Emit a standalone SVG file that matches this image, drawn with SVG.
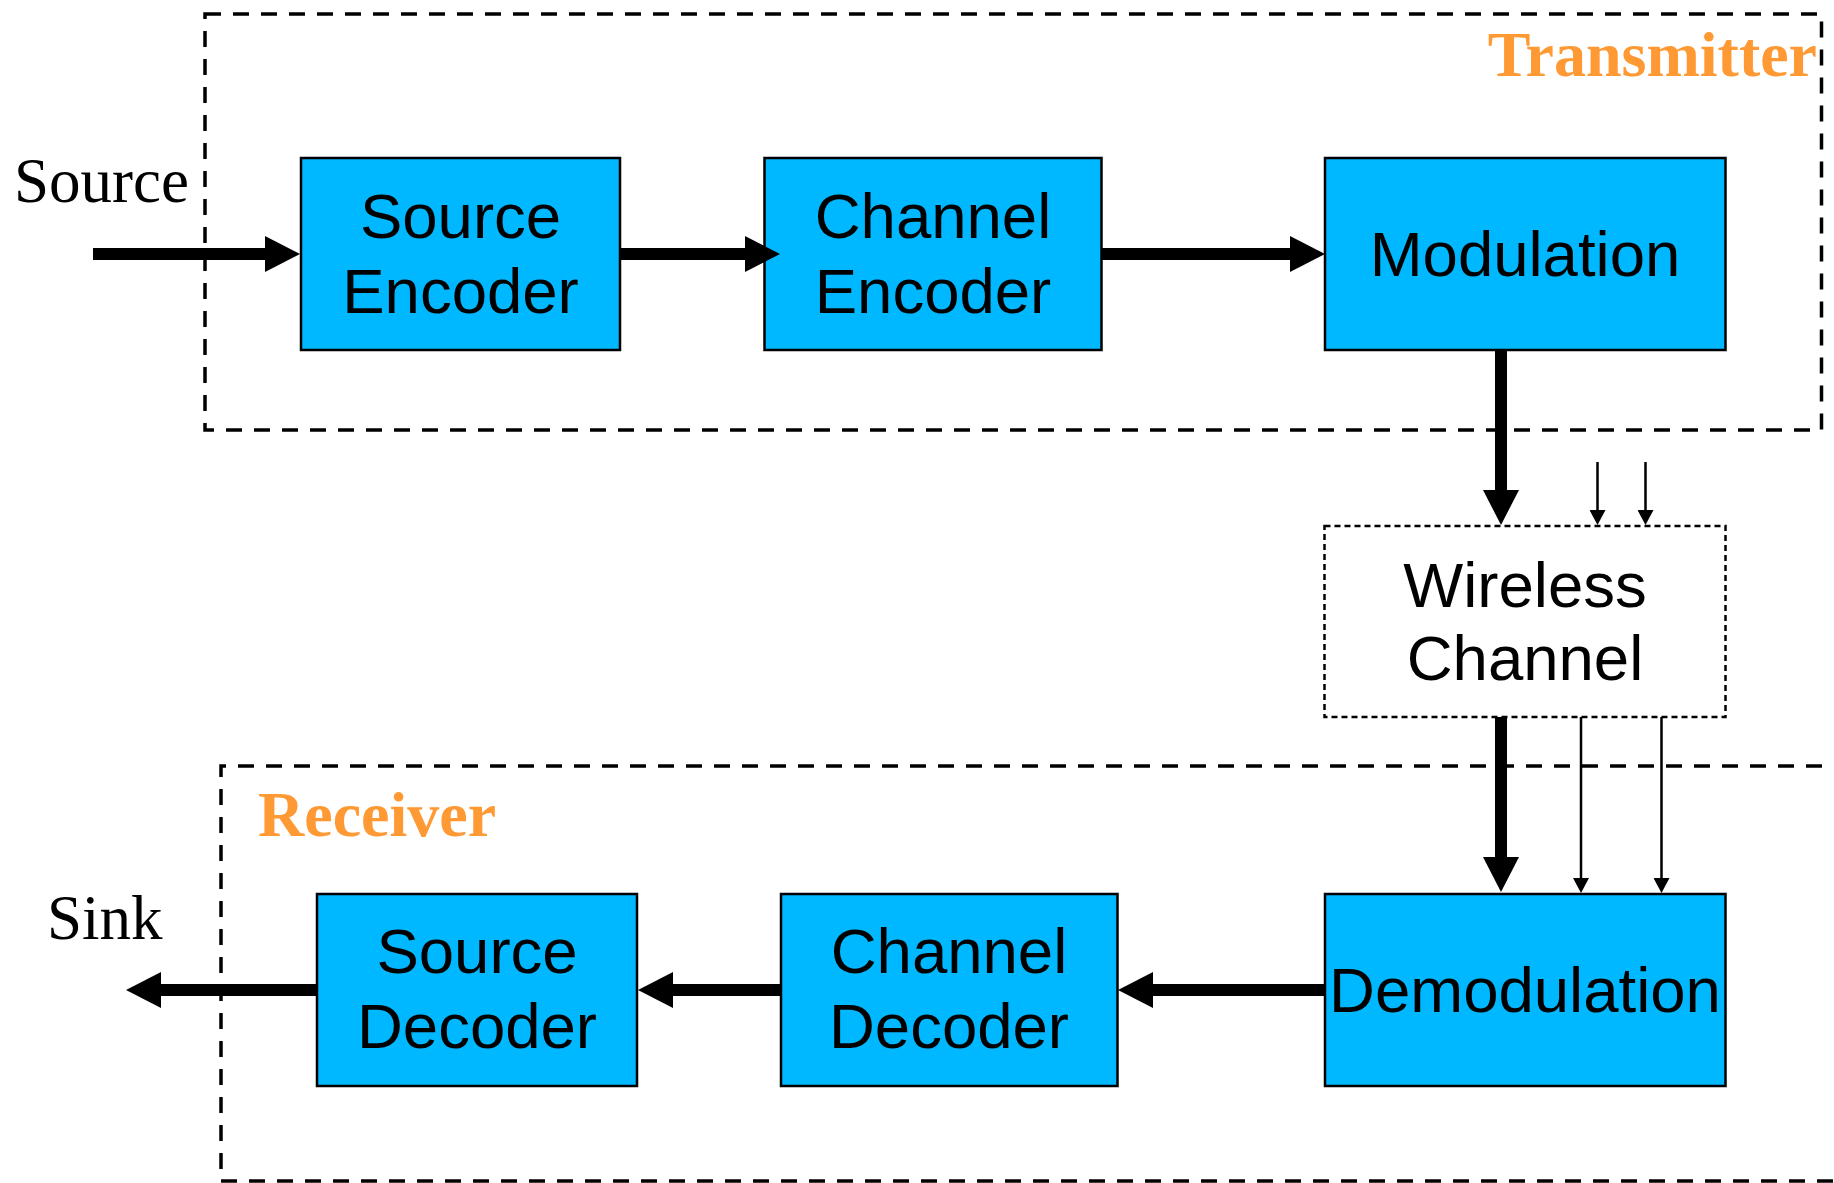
<svg xmlns="http://www.w3.org/2000/svg" width="1834" height="1183" viewBox="0 0 1834 1183">
  <style>
    .block { fill: #00B8FF; stroke: #000; stroke-width: 2.5; }
    .label { font-family: "Liberation Sans", Arial, sans-serif; font-size: 63.5px; fill: #000; text-anchor: middle; }
    .term { font-family: "Liberation Serif", "Times New Roman", serif; font-size: 63px; fill: #000; }
    .group-title { font-family: "Liberation Serif", "Times New Roman", serif; font-size: 64px; font-weight: bold; fill: #FF9933; }
    .frame { fill: none; stroke: #000; stroke-width: 3.5; stroke-dasharray: 16 12; }
    .channel-frame { fill: #fff; stroke: #000; stroke-width: 2.5; stroke-dasharray: 6 4; }
    .thick { stroke: #000; stroke-width: 12; fill: none; }
    .thin { stroke: #000; stroke-width: 2.5; fill: none; }
  </style>
  <defs>
    <marker id="head-big" markerUnits="userSpaceOnUse" markerWidth="35" markerHeight="36" viewBox="0 0 35 36" refX="0" refY="18" orient="auto">
      <path d="M0,0 L35,18 L0,36 z" fill="#000"/>
    </marker>
    <marker id="head-small" markerUnits="userSpaceOnUse" markerWidth="15" markerHeight="16" viewBox="0 0 15 16" refX="0" refY="8" orient="auto">
      <path d="M0,0 L15,8 L0,16 z" fill="#000"/>
    </marker>
  </defs>

  <rect width="1834" height="1183" fill="#fff"/>

  <!-- transmitter / receiver frames -->
  <g id="transmitter">
    <rect class="frame" x="205" y="14" width="1616.5" height="416"/>
    <text class="group-title" x="1817" y="76" text-anchor="end">Transmitter</text>
  </g>
  <g id="receiver">
    <path class="frame" d="M1850,766 H221 V1181 H1850"/>
    <text class="group-title" x="258" y="836">Receiver</text>
  </g>

  <!-- endpoints -->
  <g id="source">
    <text class="term" x="14" y="202">Source</text>
  </g>
  <g id="sink">
    <text class="term" x="47" y="939">Sink</text>
  </g>

  <!-- transmitter chain -->
  <g id="source-encoder">
    <rect class="block" x="301" y="158" width="319" height="192"/>
    <text class="label" x="460.5" y="238">Source</text>
    <text class="label" x="460.5" y="313">Encoder</text>
  </g>
  <g id="channel-encoder">
    <rect class="block" x="764.5" y="158" width="337" height="192"/>
    <text class="label" x="933" y="238">Channel</text>
    <text class="label" x="933" y="313">Encoder</text>
  </g>
  <g id="modulation">
    <rect class="block" x="1325" y="158" width="400.5" height="192"/>
    <text class="label" x="1525" y="276">Modulation</text>
  </g>

  <!-- channel -->
  <g id="wireless-channel">
    <rect class="channel-frame" x="1324.5" y="526" width="401" height="191"/>
    <text class="label" x="1525" y="607">Wireless</text>
    <text class="label" x="1525" y="680">Channel</text>
  </g>

  <!-- receiver chain -->
  <g id="demodulation">
    <rect class="block" x="1325" y="894" width="400.5" height="192"/>
    <text class="label" x="1525" y="1012">Demodulation</text>
  </g>
  <g id="channel-decoder">
    <rect class="block" x="781" y="894" width="336.5" height="192"/>
    <text class="label" x="949" y="973">Channel</text>
    <text class="label" x="949" y="1048">Decoder</text>
  </g>
  <g id="source-decoder">
    <rect class="block" x="317" y="894" width="320" height="192"/>
    <text class="label" x="477" y="973">Source</text>
    <text class="label" x="477" y="1048">Decoder</text>
  </g>

  <!-- connectors: lines end at the arrowhead base, heads come from markers -->
  <g id="connectors">
    <line class="thick" x1="93" y1="254" x2="265" y2="254" marker-end="url(#head-big)"/>
    <line class="thick" x1="620" y1="254" x2="745" y2="254" marker-end="url(#head-big)"/>
    <line class="thick" x1="1101.5" y1="254" x2="1290" y2="254" marker-end="url(#head-big)"/>
    <line class="thick" x1="1501" y1="350" x2="1501" y2="490" marker-end="url(#head-big)"/>
    <line class="thin" x1="1597.5" y1="462" x2="1597.5" y2="510" marker-end="url(#head-small)"/>
    <line class="thin" x1="1645.5" y1="462" x2="1645.5" y2="510" marker-end="url(#head-small)"/>
    <line class="thick" x1="1501" y1="717" x2="1501" y2="857" marker-end="url(#head-big)"/>
    <line class="thin" x1="1581" y1="717" x2="1581" y2="878" marker-end="url(#head-small)"/>
    <line class="thin" x1="1661.5" y1="717" x2="1661.5" y2="878" marker-end="url(#head-small)"/>
    <line class="thick" x1="1325" y1="990" x2="1153" y2="990" marker-end="url(#head-big)"/>
    <line class="thick" x1="781" y1="990" x2="673" y2="990" marker-end="url(#head-big)"/>
    <line class="thick" x1="317" y1="990" x2="161" y2="990" marker-end="url(#head-big)"/>
  </g>
</svg>
